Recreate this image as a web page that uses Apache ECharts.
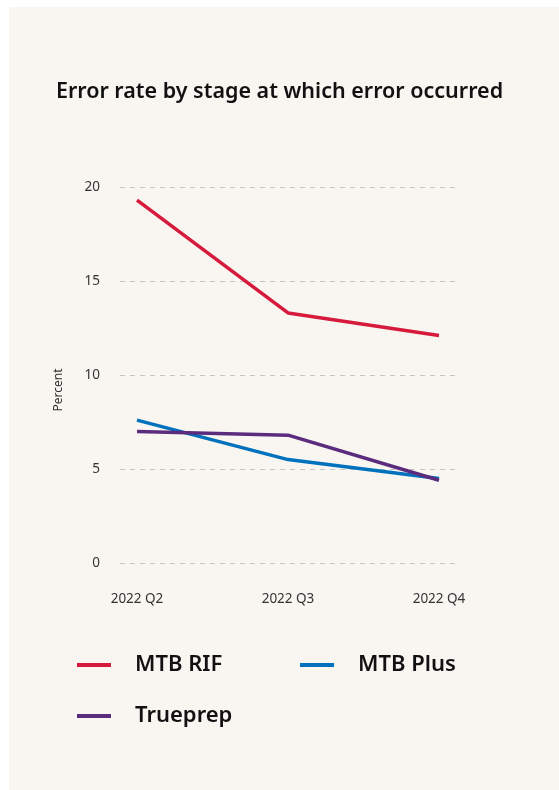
<!DOCTYPE html>
<html>
<head>
<meta charset="utf-8">
<script src="https://cdn.jsdelivr.net/npm/echarts@6/dist/echarts.min.js"></script>
<style>
  html, body { margin: 0; padding: 0; background: #ffffff; }
  #panel { position: absolute; left: 9px; top: 7px; right: 0; bottom: 0; background: #f9f6f2; }
  #chart { position: absolute; left: 0; top: 0; width: 559px; height: 790px; }
</style>
</head>
<body>
<div id="panel"></div>
<div id="chart"></div>
<script>
// quarters on the x axis
var quarters = ["2022 Q2", "2022 Q3", "2022 Q4"];
// error rate, percent
var mtbRif = [19.3, 13.3, 12.1];
var mtbPlus = [7.6, 5.5, 4.5];
var trueprep = [7.0, 6.8, 4.4];
var seriesNames = ["MTB RIF", "MTB Plus", "Trueprep"];
var seriesColors = ["#d61a3c", "#0071bc", "#5b2c7e"];

var font = "'Noto Sans', sans-serif";

function mkLine(name, data, color) {
  return {
    name: name,
    type: "line",
    xAxisIndex: 1,
    yAxisIndex: 1,
    data: data,
    showSymbol: false,
    symbol: "none",
    lineStyle: { width: 3.5, color: color },
    itemStyle: { color: color }
  };
}

var option = {
  animation: false,
  title: {
    text: "Error rate by stage at which error occurred",
    left: "center",
    top: 76,
    textStyle: { fontFamily: font, fontSize: 21.5, fontWeight: 600, color: "#111" }
  },
  legend: {
    left: 77,
    top: 647,
    width: 470,
    padding: 0,
    itemWidth: 34,
    itemHeight: 4,
    itemGap: 15,
    icon: "rect",
    data: seriesNames,
    textStyle: {
      fontFamily: font,
      fontSize: 22,
      fontWeight: 600,
      color: "#111",
      width: 150,
      lineHeight: 36,
      padding: [0, 0, 0, 19]
    }
  },
  grid: [
    { left: 120, right: 104, top: 187, bottom: 227 },
    { left: 137, right: 120, top: 187, bottom: 227 }
  ],
  xAxis: [
    { gridIndex: 0, type: "category", data: quarters, show: false },
    {
      gridIndex: 1,
      type: "category",
      data: quarters,
      boundaryGap: false,
      axisLine: { show: false },
      axisTick: { show: false },
      axisLabel: { margin: 29, fontFamily: font, fontSize: 13.5, color: "#333" }
    }
  ],
  yAxis: [
    {
      gridIndex: 0,
      type: "value",
      min: 0,
      max: 20,
      interval: 5,
      name: "Percent",
      nameLocation: "middle",
      nameGap: 55,
      nameTextStyle: { fontFamily: font, fontSize: 12, color: "#333", padding: [0, 30, 0, 0] },
      axisLine: { show: false },
      axisTick: { show: false },
      axisLabel: { margin: 20, fontFamily: font, fontSize: 13.5, color: "#333", padding: [2, 0, 0, 0] },
      splitLine: { lineStyle: { type: [5, 5], color: "#c4c4c4", width: 1 } }
    },
    { gridIndex: 1, type: "value", min: 0, max: 20, show: false, splitLine: { show: false } }
  ],
  series: [
    mkLine(seriesNames[0], mtbRif, seriesColors[0]),
    mkLine(seriesNames[1], mtbPlus, seriesColors[1]),
    mkLine(seriesNames[2], trueprep, seriesColors[2])
  ]
};

var myChart = echarts.init(document.getElementById("chart"));
myChart.setOption(option);
</script>
</body>
</html>
